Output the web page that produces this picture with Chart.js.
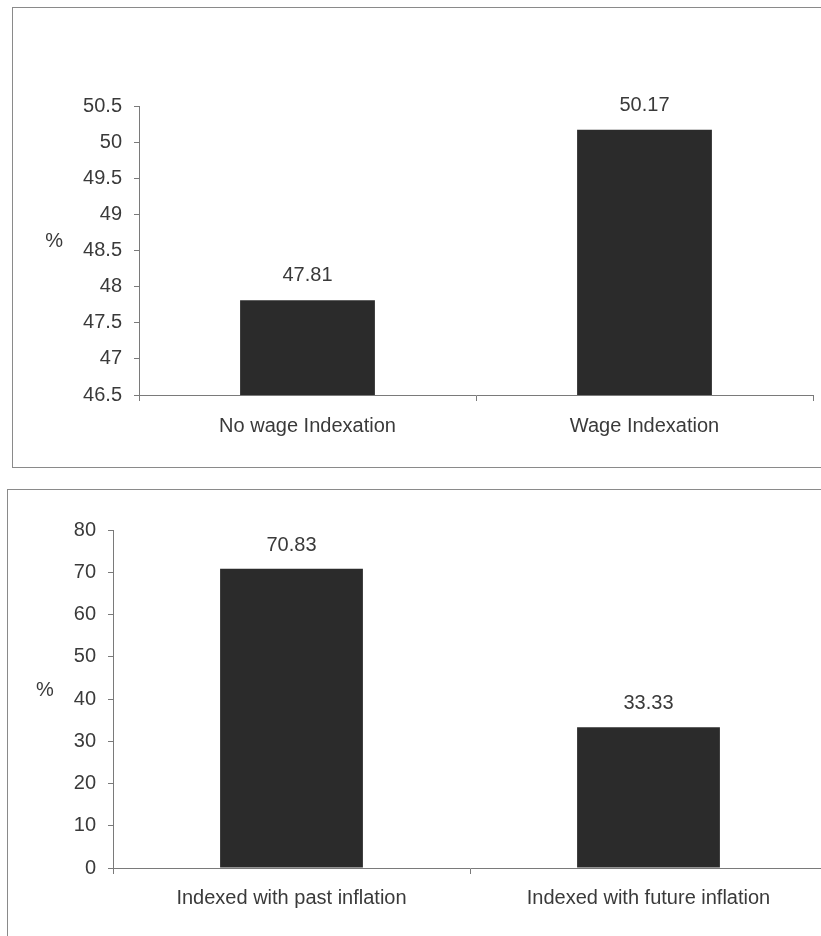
<!DOCTYPE html>
<html>
<head>
<meta charset="utf-8">
<script src="https://cdn.jsdelivr.net/npm/chart.js@4/dist/chart.umd.min.js"></script>
<style>
  html, body { margin: 0; padding: 0; background: #fff; overflow: hidden; width: 821px; height: 936px; }
  .frame { position: absolute; border: 1px solid #8a8a8a; box-sizing: border-box; }
  #frame1 { left: 12px; top: 7px; width: 900px; height: 461px; }
  #frame2 { left: 7px; top: 489px; width: 900px; height: 500px; }
  canvas { position: absolute; left: 0; }
  #c1 { top: 0; }
  #c2 { top: 470px; }
</style>
</head>
<body>
<div class="frame" id="frame1"></div>
<div class="frame" id="frame2"></div>
<canvas id="c1" width="821" height="467"></canvas>
<canvas id="c2" width="840" height="466"></canvas>
<script>
// Share of respondents (%) by wage-setting regime
const indexCategories = ['No wage Indexation', 'Wage Indexation'];
const indexValues = [47.81, 50.17];
const indexAxis = { min: 46.5, max: 50.5, step: 0.5 };

// Share of indexed contracts (%) by the inflation reference used
const inflationCategories = ['Indexed with past inflation', 'Indexed with future inflation'];
const inflationValues = [70.83, 33.33];
const inflationAxis = { min: 0, max: 80, step: 10 };

const FONT = '"Liberation Sans", Arial, Helvetica, sans-serif';
const TEXT = '#3a3a3a';
const AXIS = '#7a7a7a';
const BAR = '#2b2b2b';

Chart.defaults.font.family = FONT;
Chart.defaults.font.size = 20;
Chart.defaults.color = TEXT;

// Tick values printed the short way: 50, 49.5, 49 ...
function shortNumber(v) {
  return String(Math.round(v * 10) / 10);
}

// Writes each bar's value above it and a horizontal "%" beside the value axis
const barAnnotations = {
  id: 'barAnnotations',
  afterDatasetsDraw(chart, args, opts) {
    const ctx = chart.ctx;
    const ds = chart.data.datasets[0];
    const meta = chart.getDatasetMeta(0);
    ctx.save();
    ctx.font = '20px ' + FONT;
    ctx.fillStyle = TEXT;
    ctx.textAlign = 'center';
    ctx.textBaseline = 'alphabetic';
    meta.data.forEach((bar, i) => {
      ctx.fillText(ds.data[i].toFixed(2), bar.x, bar.y - opts.gap);
    });
    const ys = chart.scales.y;
    let widest = 0;
    ys.ticks.forEach(t => { widest = Math.max(widest, ctx.measureText(String(t.label)).width); });
    const area = chart.chartArea;
    ctx.textAlign = 'right';
    ctx.textBaseline = 'middle';
    ctx.fillText('%', area.left - 17 - widest - 20, (area.top + area.bottom) / 2 - 9);
    ctx.restore();
  }
};

function makeChart(id, labels, values, axis, dims) {
  return new Chart(document.getElementById(id), {
    type: 'bar',
    data: {
      labels: labels,
      datasets: [{
        data: values,
        backgroundColor: BAR,
        borderWidth: 0,
        categoryPercentage: 1,
        barPercentage: 0.4
      }]
    },
    options: {
      responsive: false,
      animation: false,
      devicePixelRatio: 1,
      layout: { padding: { left: 0, top: dims.top, right: dims.right, bottom: 0 } },
      plugins: {
        legend: { display: false },
        tooltip: { enabled: false },
        barAnnotations: { gap: dims.gap }
      },
      scales: {
        x: {
          grid: { display: true, drawOnChartArea: false, drawTicks: true, tickLength: 6, color: AXIS, offset: true },
          border: { display: true, color: AXIS, width: 1 },
          ticks: { color: TEXT, font: { size: 20 }, padding: dims.xPad, maxRotation: 0, autoSkip: false },
          afterFit(scale) { scale.height = dims.xHeight; }
        },
        y: {
          min: axis.min,
          max: axis.max,
          grid: { display: true, drawOnChartArea: false, drawTicks: true, tickLength: 5, color: AXIS },
          border: { display: true, color: AXIS, width: 1 },
          ticks: { stepSize: axis.step, color: TEXT, font: { size: 20 }, padding: 12, callback: shortNumber },
          afterFit(scale) { scale.width = dims.yWidth; }
        }
      }
    },
    plugins: [barAnnotations]
  });
}

makeChart('c1', indexCategories, indexValues, indexAxis,
  { top: 106, right: 8, yWidth: 139, xHeight: 72, xPad: 13, gap: 19 });
makeChart('c2', inflationCategories, inflationValues, inflationAxis,
  { top: 60, right: 13, yWidth: 113, xHeight: 68, xPad: 12, gap: 18 });
</script>
</body>
</html>
